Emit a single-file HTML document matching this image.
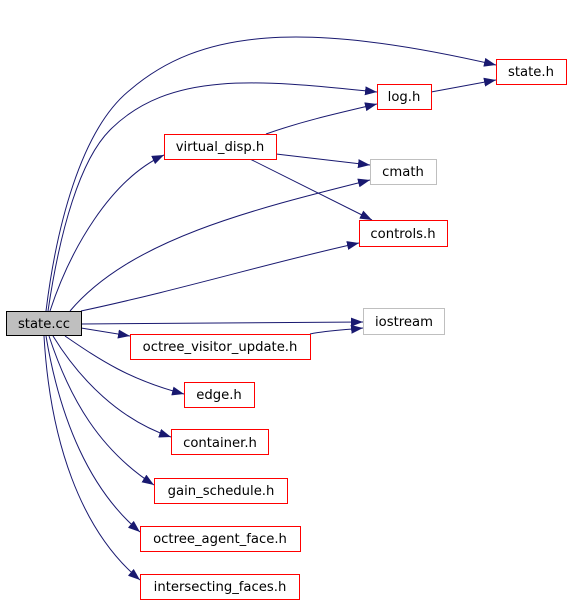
<!DOCTYPE html>
<html><head><meta charset="utf-8"><style>
body{margin:0;background:#fff;width:571px;height:603px;overflow:hidden}
svg{position:absolute;left:0;top:0}
text{font-family:"DejaVu Sans","Liberation Sans",sans-serif;font-size:13.2px;fill:#000}
</style></head><body>
<svg width="571" height="603" viewBox="0 0 571 603">
<defs><marker id="a" markerWidth="12" markerHeight="9" refX="12" refY="4.5" orient="auto" markerUnits="userSpaceOnUse"><path d="M0,0L12,4.5L0,9z" fill="#191970"/></marker></defs>
<g fill="none" stroke="#191970" stroke-width="1" marker-end="url(#a)">
<path d="M46,311C56,230 80,130 130,90C200,30 300,20 496,65"/>
<path d="M48,311C60,230 80,160 110,130C170,70 260,80 377,92"/>
<path d="M50,311C70,250 110,180 164,155"/>
<path d="M70,311C130,240 250,210 370,180"/>
<path d="M81,311C180,290 280,260 359,243"/>
<path d="M81,324L363,322"/>
<path d="M81,328L130,336"/>
<path d="M310,334C330,330 345,330 363,328"/>
<path d="M65,336C100,360 130,380 184,394"/>
<path d="M53,336C80,380 120,420 171,437"/>
<path d="M49,336C70,400 100,450 154,485"/>
<path d="M46,336C60,420 90,490 140,532"/>
<path d="M44,336C50,440 80,530 140,580"/>
<path d="M266,134C300,122 330,115 377,104"/>
<path d="M276,154L370,165"/>
<path d="M250,159L372,220"/>
<path d="M431,92L496,80"/>
</g>
<g stroke-width="1">
<rect x="6.5" y="311.5" width="75" height="24" fill="#bfbfbf" stroke="#000"/>
<rect x="496.5" y="59.5" width="70" height="25" fill="#fff" stroke="#f00"/>
<rect x="377.5" y="84.5" width="54" height="25" fill="#fff" stroke="#f00"/>
<rect x="164.5" y="134.5" width="112" height="25" fill="#fff" stroke="#f00"/>
<rect x="370.5" y="159.5" width="66" height="25" fill="#fff" stroke="#bfbfbf"/>
<rect x="359.5" y="220.5" width="88" height="26" fill="#fff" stroke="#f00"/>
<rect x="363.5" y="308.5" width="81" height="26" fill="#fff" stroke="#bfbfbf"/>
<rect x="130.5" y="334.5" width="180" height="25" fill="#fff" stroke="#f00"/>
<rect x="184.5" y="382.5" width="70" height="25" fill="#fff" stroke="#f00"/>
<rect x="171.5" y="429.5" width="97" height="25" fill="#fff" stroke="#f00"/>
<rect x="154.5" y="478.5" width="133" height="25" fill="#fff" stroke="#f00"/>
<rect x="140.5" y="526.5" width="160" height="25" fill="#fff" stroke="#f00"/>
<rect x="140.5" y="574.5" width="159" height="25" fill="#fff" stroke="#f00"/>
</g>
<g text-anchor="middle">
<text x="44" y="328">state.cc</text>
<text x="531" y="76">state.h</text>
<text x="404" y="101">log.h</text>
<text x="220" y="151">virtual_disp.h</text>
<text x="403" y="176">cmath</text>
<text x="403" y="238">controls.h</text>
<text x="404" y="326">iostream</text>
<text x="220" y="351">octree_visitor_update.h</text>
<text x="219" y="399">edge.h</text>
<text x="220" y="447">container.h</text>
<text x="221" y="495">gain_schedule.h</text>
<text x="220" y="543">octree_agent_face.h</text>
<text x="220" y="591">intersecting_faces.h</text>
</g>
</svg>
</body></html>
